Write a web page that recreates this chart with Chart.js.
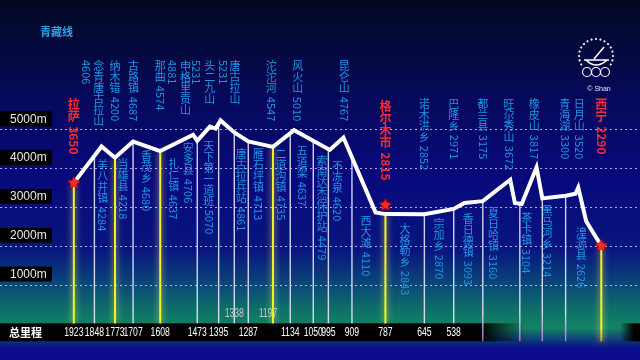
<!DOCTYPE html>
<html>
<head>
<meta charset="utf-8">
<script src="https://cdn.jsdelivr.net/npm/chart.js@4.4.0/dist/chart.umd.min.js"></script>
<style>
html, body { margin: 0; padding: 0; background: #050a30; overflow: hidden; }
canvas { display: block; }
</style>
</head>
<body>
<canvas id="grafico_perfil" width="640" height="360"></canvas>
<script>
// perfil: km ate Xining / altitude (m)
const profileKm   = [1923,1822,1773,1707,1608,1488,1473,1427,1406,1388,1338,1287,1197,1120,990,940,823,787,645,538,499,432,332,315,290,236,215,130,94,84,55,30,0];
const profileElev = [3620,4560,4270,4687,4440,4860,4706,5070,5020,5231,4920,4690,4547,4980,4470,4790,2860,2815,2810,2950,3100,3150,3700,3100,3075,4020,3220,3290,3340,3500,2630,2340,2000];

const stationKm   = [1923,1848,1773,1707,1608,1473,1395,1338,1287,1197,1134,1050,995,909,787,645,538,432,297,215,130,0];
const mainStations = [1923,1773,1608,1197,787,0];
const kmTicks      = [1923,1848,1773,1707,1608,1473,1395,1287,1134,1050,995,909,787,645,538];
const kmTicksRaised = [1338,1197];
const gridElev     = [1000,2000,3000,4000,5000];

const starKm   = [1923,787,0];
const starElev = [3620,3050,2000];

// rotulos de cima
const topNames = ['拉萨','','念青唐古拉山','纳木错','古路镇','那曲','','申格里贡山','','头二九山','','唐古拉山','沱沱河','风火山','昆仑山','格尔木市','诺木洪乡','巴隆乡','都兰县','旺尕秀山','橡皮山','青海湖','日月山','西宁'];
const topElev  = ['3650','4606','','4200','4687','4574','4881','','5231','','5231','','4547','5010','4767','2815','2852','2971','3175','3672','3817','3300','3520','2290'];
const topKm    = [1923,1877,1832,1773,1705,1608,1566,1516,1477,1427,1380,1335,1203,1107,937,787,645,538,432,336,244,133,80,0];
const topRed   = ['拉萨','格尔木市','西宁'];

// rotulos de baixo
const lowNames = ['羊八井镇','当雄县','香茂乡','扎仁镇','安多县','天下第一道班','唐古拉兵站','雁石坪镇','二道沟镇','五道梁','索南达杰保护站','不冻泉','西大滩','大格勒乡','宗加乡','香日德镇','夏日哈镇','茶卡镇','黑马河乡','湟源县'];
const lowElev  = ['4284','4218','4680','4637','4706','5070','4861','4713','4735','4637','4479','4620','4110','2843','2870','3093','3160','3104','3214','2626'];
const lowKm    = [1818,1744,1658,1559,1506,1431,1313,1250,1168,1090,1018,962,858,716,592,485,393,272,197,73];

// posicao vertical (px) onde cada rotulo comeca
const topY = [98,60,60,60,60,60,60,60,60,60,60,60,60,60,60,100,98,98,98,98,98,98,98,98];
const lowY = [159,158,150,158,142,140,148,148,148,145,155,160,215,223,218,213,207,212,205,227];

const CJK = '"Noto Sans CJK SC", "Noto Sans", sans-serif';

function elevAt(km) {
    for (let i = 0; i < profileKm.length - 1; i++) {
        const a = profileKm[i], b = profileKm[i + 1];
        if (km <= a && km >= b) {
            const t = (a - km) / (a - b);
            return profileElev[i] + t * (profileElev[i + 1] - profileElev[i]);
        }
    }
    return profileElev[profileElev.length - 1];
}

function vtext(ctx, str, cx, top, size) {
    let yy = top;
    str.split(' ').filter(p => p).forEach((p, i) => {
        if (i > 0) yy += size * 0.35;
        if (/^[\x00-\x7f]+$/.test(p)) {
            const w = ctx.measureText(p).width;
            ctx.save();
            ctx.translate(cx, yy);
            ctx.rotate(Math.PI / 2);
            ctx.textAlign = 'left';
            ctx.textBaseline = 'middle';
            ctx.fillText(p, 0, 0);
            ctx.restore();
            yy += w;
        } else {
            ctx.textAlign = 'center';
            ctx.textBaseline = 'top';
            for (const ch of p) { ctx.fillText(ch, cx, yy); yy += size; }
        }
    });
}

// texto estreito (fonte condensada)
function narrowText(ctx, str, cx, cy, sx) {
    ctx.save();
    ctx.translate(cx, cy);
    ctx.scale(sx, 1);
    ctx.textAlign = 'center';
    ctx.textBaseline = 'middle';
    ctx.fillText(str, 0, 0);
    ctx.restore();
}

function makeStar(size) {
    const c = document.createElement('canvas');
    c.width = c.height = size;
    const g = c.getContext('2d');
    const r = size / 2, ri = r * 0.45;
    g.beginPath();
    for (let k = 0; k < 10; k++) {
        const rr = k % 2 ? ri : r - 0.5;
        const a = -Math.PI / 2 + k * Math.PI / 5;
        g.lineTo(r + rr * Math.cos(a), r + rr * Math.sin(a));
    }
    g.closePath();
    g.fillStyle = '#ff2a2a';
    g.fill();
    g.strokeStyle = '#b00000';
    g.lineWidth = 0.8;
    g.stroke();
    return c;
}

const decor = {
    id: 'decor',
    beforeDraw(chart) {
        const { ctx, width, height } = chart;
        const y = chart.scales.y;
        ctx.save();
        const bg = ctx.createLinearGradient(0, 0, 0, height);
        bg.addColorStop(0, '#030920');
        bg.addColorStop(25 / 360, '#040a30');
        bg.addColorStop(100 / 360, '#06095c');
        bg.addColorStop(180 / 360, '#08097c');
        bg.addColorStop(250 / 360, '#08167e');
        bg.addColorStop(285 / 360, '#0a4878');
        bg.addColorStop(310 / 360, '#0e7068');
        bg.addColorStop(328 / 360, '#138462');
        bg.addColorStop(343 / 360, '#0c2a80');
        bg.addColorStop(349 / 360, '#0c0c8c');
        bg.addColorStop(1, '#0c0c8c');
        ctx.fillStyle = bg;
        ctx.fillRect(0, 0, width, height);

        // faixa do total de quilometragem
        const y0 = y.getPixelForValue(0);
        const band = ctx.createLinearGradient(0, 0, width, 0);
        band.addColorStop(0, 'rgba(0,0,0,1)');
        band.addColorStop(480 / 640, 'rgba(0,0,0,1)');
        band.addColorStop(525 / 640, 'rgba(0,0,0,0)');
        band.addColorStop(620 / 640, 'rgba(0,0,0,0)');
        band.addColorStop(634 / 640, 'rgba(0,0,0,1)');
        band.addColorStop(1, 'rgba(0,0,0,1)');
        ctx.fillStyle = band;
        ctx.fillRect(0, y0, width, 18);

        // linhas de grade
        ctx.strokeStyle = 'rgba(225,225,255,0.75)';
        ctx.lineWidth = 1;
        ctx.setLineDash([2, 3]);
        gridElev.forEach(v => {
            const py = Math.round(y.getPixelForValue(v)) + 0.5;
            ctx.beginPath();
            ctx.moveTo(0, py);
            ctx.lineTo(width, py);
            ctx.stroke();
        });
        ctx.setLineDash([]);
        ctx.restore();
    },
    beforeDatasetsDraw(chart) {
        const { ctx } = chart;
        const { x, y } = chart.scales;
        const y0 = y.getPixelForValue(0);
        ctx.save();
        stationKm.forEach(km => {
            const px = x.getPixelForValue(km);
            const top = y.getPixelForValue(elevAt(km));
            const bottom = km < 538 ? y0 + 18 : y0;
            const main = mainStations.includes(km);
            if (main) {
                ctx.shadowColor = 'rgba(255,255,90,0.9)';
                ctx.shadowBlur = 6;
                const g = ctx.createLinearGradient(0, top, 0, bottom);
                g.addColorStop(0, '#f4f41c');
                g.addColorStop(km < 538 ? 0.85 : 1, '#f4f41c');
                g.addColorStop(1, km < 538 ? '#e08a30' : '#f4f41c');
                ctx.strokeStyle = g;
                ctx.lineWidth = 2;
            } else {
                ctx.shadowBlur = 0;
                const g = ctx.createLinearGradient(0, top, 0, bottom);
                g.addColorStop(0, 'rgba(230,230,250,0.9)');
                g.addColorStop(km < 538 ? 0.8 : 1, 'rgba(230,230,250,0.9)');
                g.addColorStop(1, km < 538 ? 'rgba(190,120,230,0.9)' : 'rgba(230,230,250,0.9)');
                ctx.strokeStyle = g;
                ctx.lineWidth = 1.4;
            }
            ctx.beginPath();
            ctx.moveTo(px, top);
            ctx.lineTo(px, bottom);
            ctx.stroke();
        });
        ctx.restore();
    },
    afterDatasetsDraw(chart) {
        const { ctx } = chart;
        const { x, y } = chart.scales;
        const y0 = y.getPixelForValue(0);
        ctx.save();

        // caixas das altitudes
        gridElev.forEach(v => {
            const py = y.getPixelForValue(v);
            ctx.fillStyle = '#000';
            ctx.fillRect(0, py - 18, 52, 15);
            ctx.fillStyle = '#e8e8e8';
            ctx.font = '12px "Liberation Sans", sans-serif';
            ctx.textAlign = 'left';
            ctx.textBaseline = 'middle';
            ctx.fillText(v + 'm', 10, py - 10);
        });

        // quilometragem
        ctx.fillStyle = '#ffffff';
        ctx.font = 'bold 11px ' + CJK;
        ctx.textAlign = 'left';
        ctx.textBaseline = 'middle';
        ctx.fillText('总里程', 9, y0 + 9);
        ctx.font = '12px "Liberation Sans", sans-serif';
        kmTicks.forEach(km => narrowText(ctx, String(km), x.getPixelForValue(km), y0 + 9, 0.72));
        ctx.fillStyle = '#c8c8c8';
        kmTicksRaised.forEach(km => narrowText(ctx, String(km), x.getPixelForValue(km) - (km === 1197 ? 5 : 0), y0 - 10, 0.72));

        // rotulos verticais
        topNames.forEach((n, i) => {
            const red = topRed.includes(n);
            const size = red ? 12 : 11;
            ctx.fillStyle = red ? '#ff2a2a' : '#1f96e8';
            ctx.font = (red ? 'bold ' : '') + size + 'px ' + CJK;
            vtext(ctx, [n, topElev[i]].filter(s => s).join(' '), x.getPixelForValue(topKm[i]), topY[i], size);
        });
        ctx.fillStyle = '#1f96e8';
        ctx.font = '11px ' + CJK;
        lowNames.forEach((n, i) => {
            vtext(ctx, n + ' ' + lowElev[i], x.getPixelForValue(lowKm[i]), lowY[i], 11);
        });

        // titulo
        ctx.fillStyle = '#28a6e8';
        ctx.font = 'bold 11px ' + CJK;
        ctx.textAlign = 'left';
        ctx.textBaseline = 'middle';
        ctx.fillText('青藏线', 40, 32);

        // logotipo
        const cx = 596, cy = 56;
        ctx.fillStyle = '#ffffff';
        for (let k = 0; k <= 16; k++) {
            const a = Math.PI * (150 + k * 240 / 16) / 180;
            ctx.beginPath();
            ctx.arc(cx + 17 * Math.cos(a), cy + 17 * Math.sin(a), 1.1, 0, Math.PI * 2);
            ctx.fill();
        }
        ctx.strokeStyle = '#ffffff';
        ctx.lineWidth = 1.6;
        ctx.beginPath();
        ctx.moveTo(584, 60); ctx.lineTo(609, 60);
        ctx.moveTo(586, 60); ctx.quadraticCurveTo(596, 70, 607, 60);
        ctx.moveTo(594, 59); ctx.lineTo(604, 47);
        ctx.stroke();
        ctx.lineWidth = 1.2;
        [587, 596, 605].forEach(ox => {
            ctx.beginPath();
            ctx.arc(ox, 72, 4.5, 0, Math.PI * 2);
            ctx.stroke();
        });
        ctx.font = '7px "Liberation Sans", sans-serif';
        ctx.textAlign = 'center';
        ctx.fillStyle = '#e8e8e8';
        ctx.fillText('© Shan', 599, 89);

        ctx.restore();
    }
};

const ctx_perfil = document.getElementById('grafico_perfil').getContext('2d');
const starImg = makeStar(14);

let grafico_perfil = new Chart(ctx_perfil, {
    type: 'line',
    data: {
        datasets: [{
            label: '海拔',
            data: profileKm.map((km, i) => ({ x: km, y: profileElev[i] })),
            borderColor: '#ffffff',
            borderWidth: 4,
            pointRadius: 0,
            tension: 0,
            fill: false,
            order: 2
        }, {
            label: '站',
            data: starKm.map((km, i) => ({ x: km, y: starElev[i] })),
            showLine: false,
            pointStyle: starImg,
            pointRadius: 7,
            order: 1
        }]
    },
    options: {
        responsive: false,
        animation: false,
        layout: { padding: 0 },
        plugins: {
            legend: { display: false },
            tooltip: { enabled: false },
            title: { display: false }
        },
        scales: {
            x: { type: 'linear', reverse: true, min: -112, max: 2163, display: false },
            y: { min: -739, max: 8128, display: false }
        }
    },
    plugins: [decor]
});
</script>
</body>
</html>
